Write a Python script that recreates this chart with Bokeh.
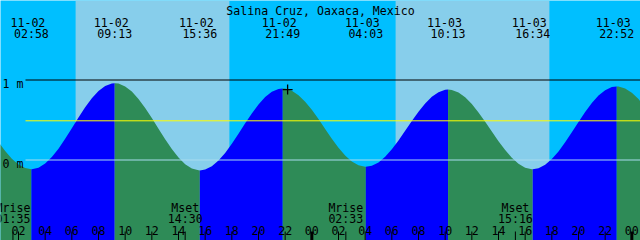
from bokeh.plotting import figure
from bokeh.models import Range1d
from bokeh.core.properties import value
from bokeh.embed import file_html
from bokeh.resources import INLINE

# ---------------- data ----------------
title = "Salina Cruz, Oaxaca, Mexico"
day_names = ["11-02", "11-03"]

# tide level (m), every half hour after 11-02 00:00
hours = [i * 0.5 for i in range(99)]
levels = [0.351, 0.226, 0.112, 0.015, -0.056, -0.101, -0.115, -0.096, -0.044, 0.037,
          0.142, 0.265, 0.398, 0.532, 0.660, 0.772, 0.863, 0.926, 0.957, 0.955,
          0.920, 0.855, 0.763, 0.650, 0.524, 0.390, 0.259, 0.136, 0.030, -0.052,
          -0.106, -0.129, -0.120, -0.078, -0.007, 0.089, 0.203, 0.329, 0.458, 0.582,
          0.694, 0.786, 0.852, 0.888, 0.893, 0.866, 0.810, 0.729, 0.627, 0.511,
          0.389, 0.267, 0.154, 0.057, -0.018, -0.066, -0.085, -0.072, -0.030, 0.041,
          0.134, 0.244, 0.365, 0.487, 0.604, 0.707, 0.791, 0.848, 0.877, 0.875,
          0.843, 0.783, 0.699, 0.595, 0.478, 0.356, 0.235, 0.124, 0.027, -0.048,
          -0.096, -0.115, -0.103, -0.060, 0.012, 0.107, 0.221, 0.347, 0.475, 0.600,
          0.711, 0.805, 0.873, 0.911, 0.919, 0.895, 0.842, 0.762, 0.660]

# high / low tides
ext_day = [0, 0, 0, 0, 1, 1, 1, 1]
ext_times = ["02:58", "09:13", "15:36", "21:49", "04:03", "10:13", "16:34", "22:52"]
ext_levels = [-0.115, 0.96, -0.13, 0.895, -0.085, 0.88, -0.115, 0.92]

# sun (day = light background)
sun_day = [0, 1]
sunrise = ["06:17", "06:17"]
sunset = ["17:49", "17:49"]

# moon events
moon_day = [0, 0, 1, 1]
moon_names = ["Mrise", "Mset", "Mrise", "Mset"]
moon_times = ["01:35", "14:30", "02:33", "15:16"]

# reference levels (m)
datum_levels = [1.0, 0.49, 0.0]
datum_labels = ["1 m", None, "0 m"]

# current-time mark
now_day, now_time, now_level = 0, "22:11", 0.88

# hour ticks
tick_hours = list(range(2, 49, 2))
tick_labels = ["%02d" % (h % 24) for h in tick_hours]

# ---------------- helpers ----------------
def to_h(day, hhmm):
    hh, mm = hhmm.split(":")
    return day * 24 + int(hh) + int(mm) / 60.0

ext_hours = [to_h(d, t) for d, t in zip(ext_day, ext_times)]

X0, X1 = 0.65, 48.65          # 48 hours across 640 px
PX_PER_M = 80.0
TOP = 159.5 / PX_PER_M
BOT = TOP - 240 / PX_PER_M
PXH = 640 / (X1 - X0)


def py(pix):
    return TOP - pix / PX_PER_M


def px(pix):
    return X0 + pix / PXH


NIGHT = "#00BFFF"
DAY = "#87CEEB"
FLOOD = "#0000FF"
EBB = "#2E8B57"
FONT = value("DejaVu Sans Mono")
FS = "11.6px"

p = figure(width=640, height=240, x_range=Range1d(X0, X1), y_range=Range1d(BOT, TOP),
           output_backend="svg", toolbar_location=None,
           x_axis_location=None, y_axis_location=None, min_border=0)
p.grid.visible = False
p.outline_line_color = None
p.background_fill_color = NIGHT
p.border_fill_color = NIGHT

# daylight bands
p.quad(left=[to_h(d, t) for d, t in zip(sun_day, sunrise)],
       right=[to_h(d, t) for d, t in zip(sun_day, sunset)],
       bottom=BOT, top=TOP, fill_color=DAY, line_color=None)

# water fill, split into rising / falling parts
pts = sorted(zip(hours + ext_hours, levels + ext_levels))
bounds = [hours[0]] + ext_hours + [hours[-1]]
for a, b in zip(bounds[:-1], bounds[1:]):
    seg = [(t, v) for t, v in pts if a - 1e-9 <= t <= b + 1e-9]
    xs = [s[0] for s in seg]
    ys = [s[1] for s in seg]
    col = FLOOD if ys[-1] > ys[0] else EBB
    p.varea(x=xs, y1=BOT, y2=ys, fill_color=col)

# reference lines
line_cols = ["black", "yellow", "#a8dcef"]
for lv, lab, c in zip(datum_levels, datum_labels, line_cols):
    p.segment(x0=[px(25)], x1=[X1], y0=[lv], y1=[lv], line_color=c, line_width=1)
    if lab:
        p.text(x=[px(2)], y=[lv - 4 / PX_PER_M], text=[lab], text_font=FONT,
               text_font_size=FS, text_color="black", text_baseline="alphabetic",
               text_align="left")

# now mark
p.scatter(x=[to_h(now_day, now_time)], y=[now_level], marker="cross", size=10,
          line_color="black", line_width=1.3)

# title
p.text(x=[(X0 + X1) / 2], y=[py(10)], text=[title], text_font=FONT, text_font_size=FS,
       text_color="black", text_align="center", text_baseline="alphabetic")

# tide labels
p.text(x=ext_hours, y=py(22), text=[day_names[d] for d in ext_day], text_font=FONT,
       text_font_size=FS, text_align="center", text_baseline="alphabetic",
       x_offset=-3.5, text_color="black")
p.text(x=ext_hours, y=py(33.5), text=ext_times, text_font=FONT, text_font_size=FS,
       text_align="center", text_baseline="alphabetic", text_color="black")

# moon labels and ticks
moon_hours = [to_h(d, t) for d, t in zip(moon_day, moon_times)]
p.text(x=moon_hours, y=py(207), text=moon_names, text_font=FONT, text_font_size=FS,
       text_align="center", text_baseline="alphabetic", text_color="black")
p.text(x=moon_hours, y=py(218.5), text=moon_times, text_font=FONT, text_font_size=FS,
       text_align="center", text_baseline="alphabetic", text_color="black")
p.segment(x0=moon_hours, x1=moon_hours, y0=py(231), y1=py(240), line_color="black",
          line_width=1)

# hour ticks
p.text(x=tick_hours, y=py(229.5), text=tick_labels, text_font=FONT, text_font_size=FS,
       text_align="center", text_baseline="alphabetic", text_color="black")
widths = [3 if h % 24 == 0 else 1 for h in tick_hours]
p.segment(x0=tick_hours, x1=tick_hours, y0=py(231), y1=py(240), line_color="black",
          line_width=widths)

open("out.html", "w").write(file_html(p, INLINE))
